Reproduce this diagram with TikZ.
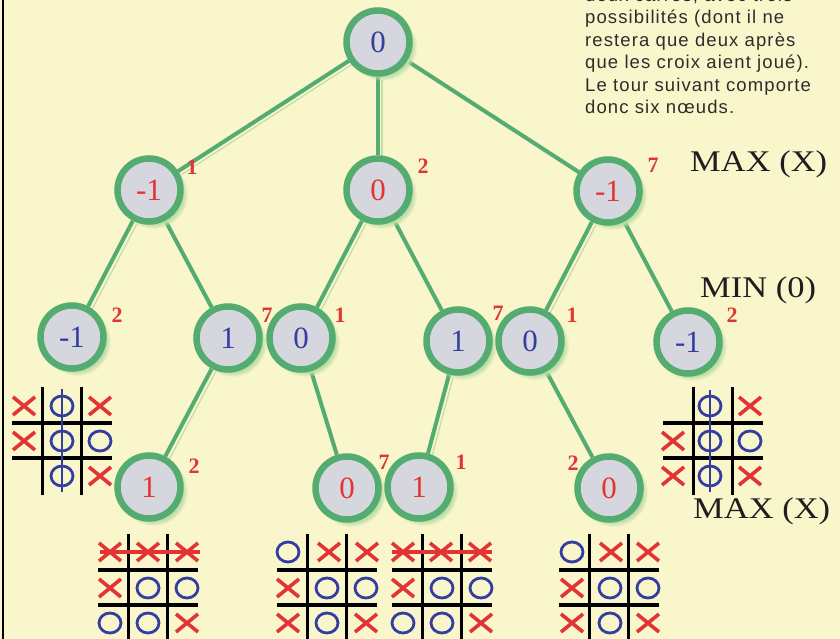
\documentclass[tikz,border=0pt]{standalone}
\usepackage{fontspec}
\setmainfont{Liberation Serif}
\newfontfamily\capfont[LetterSpace=6]{Liberation Sans}
\usetikzlibrary{shadows}
\definecolor{bgyellow}{RGB}{250,246,204}
\definecolor{ringgreen}{RGB}{84,172,112}
\definecolor{shadegreen}{RGB}{190,222,168}
\definecolor{nodegrey}{RGB}{214,214,222}
\definecolor{mred}{RGB}{226,52,52}
\definecolor{mblue}{RGB}{52,62,160}
\definecolor{captext}{RGB}{45,45,45}
\definecolor{labblack}{RGB}{30,30,30}
\pgfdeclarelayer{bglayer}
\pgfdeclarelayer{edgelayer}
\pgfsetlayers{bglayer,edgelayer,main}
\tikzset{
  tnode/.style={circle, draw=ringgreen, line width=6.5pt, fill=nodegrey, minimum size=63pt, inner sep=0pt,
    font=\fontsize{31}{33}\selectfont,
    circular drop shadow={shadow xshift=4pt, shadow yshift=-4pt, shadow scale=1.1, fill=shadegreen, opacity=1}},
  redn/.style={tnode, text=mred},
  bluen/.style={tnode, text=mblue},
  score/.style={text=mred, font=\fontsize{22}{24}\selectfont\bfseries, inner sep=0pt},
  edge/.style={draw=ringgreen, line width=4pt},
  edgeshade/.style={draw=shadegreen, line width=1.2pt, transform canvas={shift={(4pt,-3pt)}}},
  levlab/.style={anchor=base west, inner sep=0pt, text=labblack, font=\fontsize{30}{32}\selectfont},
  capline/.style={anchor=base west, inner sep=0pt, text=captext, font=\capfont\fontsize{18.5}{22}\selectfont},
  gline/.style={draw=black, line width=3.5pt},
  xline/.style={draw=mred, line width=3.6pt},
  oline/.style={draw=mblue, line width=2.8pt},
  xmk/.pic={\draw[xline] (-11,-9) -- (11,9) (-11,9) -- (11,-9);},
  omk/.pic={\draw[oline] (0,0) ellipse [x radius=11, y radius=10];},
  tttgrid/.pic={\draw[gline] (-19.5,-54) -- (-19.5,54) (19.5,-54) -- (19.5,54) (-50,-18) -- (50,-18) (-50,17) -- (50,17);}
}
\begin{document}
\begin{tikzpicture}[x=1pt,y=-1pt]
\useasboundingbox (0,0) rectangle (840,639);
\clip (0,0) rectangle (840,639);
\begin{pgfonlayer}{bglayer}
\fill[bgyellow] (0,0) rectangle (840,639);
\draw[black, line width=1.4pt] (3,0) -- (3,639);
\end{pgfonlayer}

% caption text (top right)
\node[capline] (cap1) at (585,1.5) {deux carrés, avec trois};
\node[capline] (cap2) at (585,24) {possibilités (dont il ne};
\node[capline] (cap3) at (585,46.5) {restera que deux après};
\node[capline] (cap4) at (585,69) {que les croix aient joué).};
\node[capline] (cap5) at (585,91.5) {Le tour suivant comporte};
\node[capline] (cap6) at (585,114) {donc six nœuds.};

% level labels
\node[levlab] (max1) at (690,172) {\scalebox{1.15}[1]{MAX (X)}};
\node[levlab] (min1) at (700,297) {\scalebox{1.15}[1]{MIN (0)}};
\node[levlab] (max2) at (693,518) {\scalebox{1.15}[1]{MAX (X)}};

% tree nodes
\node[bluen] (root) at (378,42) {0};
\node[redn] (A) at (149,190) {-1};
\node[redn] (B) at (378,190) {0};
\node[redn] (C) at (608,191) {-1};
\node[bluen] (D) at (72,337) {-1};
\node[bluen] (E) at (228,338) {1};
\node[bluen] (F) at (301,338) {0};
\node[bluen] (G) at (458,341) {1};
\node[bluen] (H) at (530,341) {0};
\node[bluen] (I) at (688,342) {-1};
\node[redn] (J) at (149,487) {1};
\node[redn] (K) at (347,488) {0};
\node[redn] (L) at (419,487) {1};
\node[redn] (M) at (609,488) {0};

% scores
\node[score] (sA) at (192,167) {1};
\node[score] (sB) at (423,166) {2};
\node[score] (sC) at (653,165) {7};
\node[score] (sD) at (117,315) {2};
\node[score] (sE) at (267,315) {7};
\node[score] (sF) at (340,315) {1};
\node[score] (sG) at (498,313) {7};
\node[score] (sH) at (572,315) {1};
\node[score] (sI) at (732,315) {2};
\node[score] (sJ) at (194,466) {2};
\node[score] (sK) at (384,462) {7};
\node[score] (sL) at (461,462) {1};
\node[score] (sM) at (573,463) {2};

% edges
\begin{pgfonlayer}{edgelayer}
\foreach \a/\b in {root/A, root/B, root/C, A/D, B/F, C/H, E/J, G/L}
  \draw[edgeshade] (\a) -- (\b);
\foreach \a/\b in {root/A, root/B, root/C, A/D, A/E, B/F, B/G, C/H, C/I, E/J, F/K, G/L, H/M}
  \draw[edge] (\a) -- (\b);
\end{pgfonlayer}

% board under D
\pic at (62,441) {tttgrid};
\pic at (24,406) {xmk}; \pic at (62,406) {omk}; \pic at (100,406) {xmk};
\pic at (24,441) {xmk}; \pic at (62,441) {omk}; \pic at (100,441) {omk};
\pic at (62,476) {omk}; \pic at (100,476) {xmk};
\draw[oline] (62,389) -- (62,492);

% board under I
\pic at (713,441) {tttgrid};
\pic at (710,406) {omk}; \pic at (750,406) {xmk};
\pic at (673,441) {xmk}; \pic at (710,441) {omk}; \pic at (750,441) {omk};
\pic at (673,476) {xmk}; \pic at (710,476) {omk}; \pic at (750,476) {xmk};
\draw[oline] (710,390) -- (710,492);

% board under J
\pic at (148,588) {tttgrid};
\pic at (110,552) {xmk}; \pic at (148,552) {xmk}; \pic at (187,552) {xmk};
\pic at (110,588) {xmk}; \pic at (148,588) {omk}; \pic at (187,588) {omk};
\pic at (110,623) {omk}; \pic at (148,623) {omk}; \pic at (187,623) {xmk};
\draw[xline] (100,552) -- (200,552);

% board under K
\pic at (327,588) {tttgrid};
\pic at (288,552) {omk}; \pic at (329,552) {xmk}; \pic at (367,552) {xmk};
\pic at (288,588) {xmk}; \pic at (327,588) {omk}; \pic at (366,588) {omk};
\pic at (288,623) {xmk}; \pic at (327,623) {omk}; \pic at (366,623) {xmk};

% board under L
\pic at (442,588) {tttgrid};
\pic at (403,552) {xmk}; \pic at (441,552) {xmk}; \pic at (480,552) {xmk};
\pic at (403,588) {xmk}; \pic at (442,588) {omk}; \pic at (481,588) {omk};
\pic at (403,623) {omk}; \pic at (442,623) {omk}; \pic at (481,623) {xmk};
\draw[xline] (392,552) -- (492,552);

% board under M
\pic at (609,588) {tttgrid};
\pic at (572,552) {omk}; \pic at (611,552) {xmk}; \pic at (648,552) {xmk};
\pic at (572,588) {xmk}; \pic at (610,588) {omk}; \pic at (648,588) {omk};
\pic at (572,623) {xmk}; \pic at (610,623) {omk}; \pic at (648,623) {xmk};
\end{tikzpicture}
\end{document}
